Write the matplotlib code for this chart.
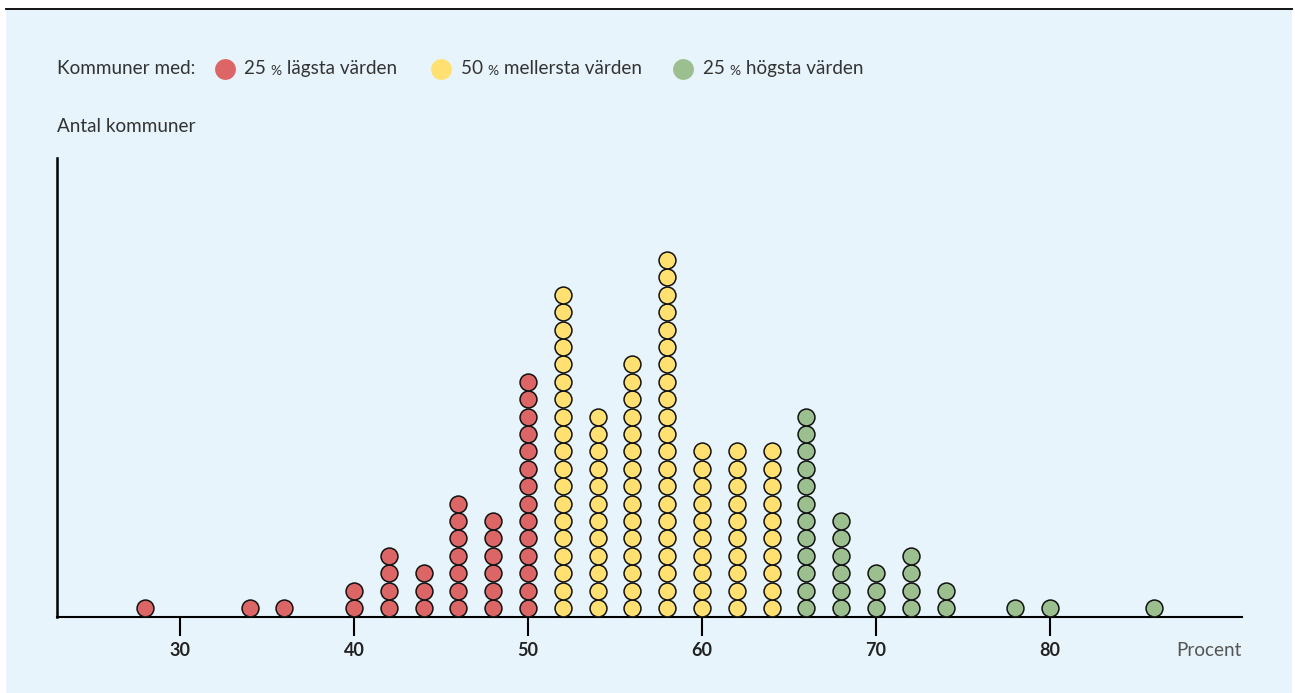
import matplotlib.pyplot as plt
from matplotlib.patches import Rectangle
from matplotlib.lines import Line2D

# procentvärde per stapel och antal kommuner
procent = [28, 34, 36, 40, 42, 44, 46, 48, 50, 52, 54, 56, 58, 60, 62, 64, 66, 68, 70, 72, 74, 78, 80, 86]
antal = [1, 1, 1, 2, 4, 3, 7, 6, 14, 19, 12, 15, 21, 10, 10, 10, 12, 6, 3, 4, 2, 1, 1, 1]
grupp = ["low"] * 9 + ["mid"] * 7 + ["high"] * 8

xticks = [30, 40, 50, 60, 70, 80]
legend_labels = [("25", "lägsta värden"), ("50", "mellersta värden"), ("25", "högsta värden")]

farger = {"low": "#dc6666", "mid": "#ffe070", "high": "#9cbf90"}
bg = "#e8f4fc"
textfarg = "#333333"
fs = 13.6

plt.rcParams['font.family'] = ['Lato', 'DejaVu Sans']

W, H = 1295, 693
fig = plt.figure(figsize=(W / 100, H / 100), dpi=100)
fig.patch.set_facecolor("white")
fig.patches.append(Rectangle((6 / W, 0), (1292 - 6) / W, (H - 9) / H,
                             transform=fig.transFigure, facecolor=bg, edgecolor="none", zorder=-5))
fig.lines.append(Line2D([6 / W, 1292 / W], [(H - 9) / H] * 2, transform=fig.transFigure,
                        color="black", lw=1.3, zorder=-4))

x0, x1, ytop, ybot = 57, 1242, 158, 617
ax = fig.add_axes([x0 / W, (H - ybot) / H, (x1 - x0) / W, (ybot - ytop) / H], zorder=2)
ax.set_facecolor("none")

px_per_unit = 17.4
xmin = 30 - (180 - x0) / px_per_unit
xmax = 30 + (x1 - 180) / px_per_unit
ax.set_xlim(xmin, xmax)
ax.set_ylim(0, (ybot - ytop) / px_per_unit)

for p, n, g in zip(procent, antal, grupp):
    ys = [i + 0.52 for i in range(n)]
    ax.scatter([p] * n, ys, s=148, facecolor=farger[g], edgecolor="#111111",
               linewidth=1.1, zorder=3, clip_on=False)

for s in ["top", "right"]:
    ax.spines[s].set_visible(False)
ax.spines["left"].set_linewidth(1.8)
ax.spines["bottom"].set_linewidth(1.5)
ax.set_yticks([])
ax.set_xticks(xticks)
ax.set_xticklabels([str(t) for t in xticks], fontsize=13, fontweight="bold", color="#222222")
ax.tick_params(axis="x", length=14, width=1.5, pad=4)

fig.text(x1 / W, 1 - 651 / H, "Procent", ha="right", va="center", fontsize=fs, color="#555555")
fig.text(x0 / W, 1 - 127 / H, "Antal kommuner", ha="left", va="center", fontsize=fs, color=textfarg)

# legend row
ly = 1 - 69 / H
fig.text(x0 / W, ly, "Kommuner med:", ha="left", va="center", fontsize=fs, color=textfarg)
dot_x = [225, 441, 683]
txt_x = [244, 461, 703]
for (pct, rest), dx, tx, g in zip(legend_labels, dot_x, txt_x, ["low", "mid", "high"]):
    fig.lines.append(Line2D([dx / W], [ly], transform=fig.transFigure, marker="o",
                            markersize=15, markerfacecolor=farger[g], markeredgecolor="none"))
    t1 = fig.text(tx / W, ly - 5 / H, pct + " ", ha="left", va="baseline",
                  fontsize=fs, color=textfarg)
    t2 = ax.annotate("%", xy=(1, 0), xycoords=t1, va="bottom", ha="left",
                     fontsize=10, color=textfarg, annotation_clip=False)
    ax.annotate(" " + rest, xy=(1, 0), xycoords=t2, va="bottom", ha="left",
                fontsize=fs, color=textfarg, annotation_clip=False)

fig.savefig("out.png", dpi=100)
